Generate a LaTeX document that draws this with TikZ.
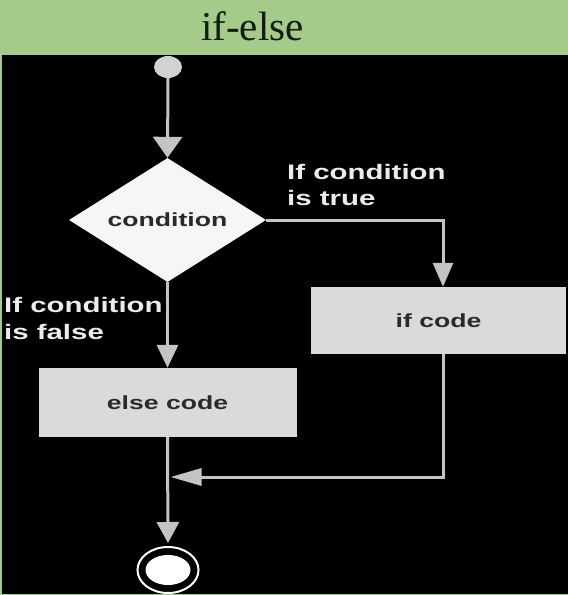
\documentclass[tikz,border=0pt]{standalone}
\usepackage{fontspec}
\setmainfont{Liberation Serif}
\newfontfamily\labfont{Liberation Sans}
\usetikzlibrary{shapes.geometric,arrows.meta}
\definecolor{bannergreen}{RGB}{164,203,138}
\definecolor{titletext}{RGB}{18,28,18}
\definecolor{linegray}{RGB}{196,196,196}
\definecolor{boxgray}{RGB}{218,218,218}
\definecolor{diamwhite}{RGB}{246,246,246}
\definecolor{startgray}{RGB}{210,210,210}
\definecolor{boxtext}{RGB}{42,42,42}
\definecolor{labtext}{RGB}{236,236,236}
\newcommand{\widetext}[1]{\scalebox{1.4}[1]{#1}}
\begin{document}
\begin{tikzpicture}[x=1pt,y=-1pt,
  flow/.style={draw=linegray, line width=3pt},
  vtip/.style={-{Triangle[length=21pt,width=24pt]}},
  boxstyle/.style={draw=none, fill=boxgray, inner sep=0pt, text=boxtext,
    font=\labfont\fontsize{19}{23}\selectfont\bfseries},
  labstyle/.style={inner sep=0pt, anchor=base west, text=labtext,
    font=\labfont\fontsize{21}{27}\selectfont\bfseries}]
\useasboundingbox (0,0) rectangle (568,595);
% background
\fill[bannergreen] (0,0) rectangle (568,595);
\fill[black] (2,55) rectangle (568,593.5);
\node[anchor=base, inner sep=0pt, text=titletext, font=\fontsize{41}{48}\selectfont] (title) at (252.5,40) {if-else};
% nodes
\node[ellipse, fill=startgray, minimum width=28pt, minimum height=22pt, inner sep=0pt] (start) at (168,67) {};
\node[diamond, fill=diamwhite, aspect=1.59, minimum width=197pt, minimum height=124pt, inner sep=0pt,
  text=boxtext, font=\labfont\fontsize{19}{23}\selectfont\bfseries] (cond) at (167.5,220) {\widetext{condition}};
\node[boxstyle, minimum width=258pt, minimum height=69pt] (elsec) at (167.5,402.5) {\widetext{else code}};
\node[boxstyle, minimum width=255pt, minimum height=67pt] (ifc) at (438.5,320.5) {\widetext{if code}};
\node[ellipse, draw=white, line width=2pt, fill=black, minimum width=61pt, minimum height=46pt, inner sep=0pt] (endring) at (168,570) {};
\node[ellipse, fill=white, minimum width=45pt, minimum height=30pt, inner sep=0pt] (endin) at (168,570) {};
% labels
\node[labstyle] (t1) at (287,179) {\widetext{If condition}};
\node[labstyle] (t2) at (287,205) {\widetext{is true}};
\node[labstyle] (f1) at (4,312) {\widetext{If condition}};
\node[labstyle] (f2) at (4,339) {\widetext{is false}};
% connectors
\coordinate (merge) at (167.5,477);
\draw[flow, -{Triangle[length=21pt,width=29pt]}] (start.south) -- (cond.north);
\draw[flow, -{Triangle[length=24pt,width=20pt]}] (cond.east) -| ([xshift=4.5pt]ifc.north);
\draw[flow, -{Triangle[length=23pt,width=21pt]}] (cond.south) -- (elsec.north);
\draw[flow, shorten >=3pt, -{Triangle[length=31pt,width=17pt]}] ([xshift=4.5pt]ifc.south) |- (merge);
\draw[flow, shorten >=3pt, -{Triangle[length=21pt,width=22pt]}] (elsec.south) -- (endring.north);
\end{tikzpicture}
\end{document}
